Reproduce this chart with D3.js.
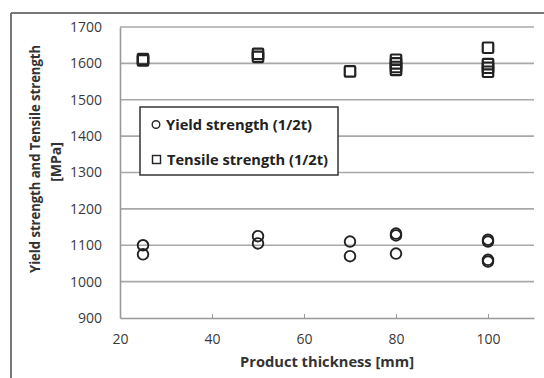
<!DOCTYPE html>
<html>
<head>
<meta charset="utf-8">
<script src="https://cdn.jsdelivr.net/npm/d3@7"></script>
<style>
  body { margin: 0; background: #fff; }
  svg text { font-family: "Open Sans", "Noto Sans", sans-serif; }
</style>
</head>
<body>
<div id="chart"></div>
<script>
// data
const yieldThickness = [25, 25, 50, 50, 70, 70, 80, 80, 80, 100, 100, 100, 100];
const yieldValues    = [1100, 1075, 1125, 1105, 1110, 1070, 1132, 1127, 1077, 1115, 1110, 1060, 1055];
const tensileThickness = [25, 25, 50, 50, 70, 80, 80, 80, 80, 100, 100, 100, 100];
const tensileValues    = [1612, 1608, 1626, 1618, 1578, 1610, 1600, 1590, 1582, 1643, 1598, 1588, 1577];
const xTicks = [20, 40, 60, 80, 100];
const yTicks = [900, 1000, 1100, 1200, 1300, 1400, 1500, 1600, 1700];

const width = 544, height = 378;

const svg = d3.select('#chart').append('svg')
  .attr('width', width)
  .attr('height', height);

// outer frame (only top and left edges are visible)
svg.append('line').attr('x1', 11).attr('y1', 13).attr('x2', width).attr('y2', 13)
  .attr('stroke', '#777').attr('stroke-width', 2);
svg.append('line').attr('x1', 11).attr('y1', 13).attr('x2', 11).attr('y2', height)
  .attr('stroke', '#777').attr('stroke-width', 2);

const x = d3.scaleLinear().domain([20, 110]).range([120, 534]);
const y = d3.scaleLinear().domain([900, 1700]).range([318, 27]);

// gridlines
svg.append('g')
  .selectAll('line')
  .data(yTicks.slice(1))
  .enter()
  .append('line')
  .attr('x1', x(20))
  .attr('x2', x(110))
  .attr('y1', d => y(d))
  .attr('y2', d => y(d))
  .attr('stroke', '#a8a8a8')
  .attr('stroke-width', 1.6);

// y axis
const yAxis = svg.append('g')
  .attr('transform', `translate(${x(20)},0)`)
  .call(d3.axisLeft(y).tickValues(yTicks).tickSize(0).tickPadding(18).tickFormat(d3.format('d')));
yAxis.select('.domain').attr('stroke', '#999').attr('stroke-width', 1.6);
yAxis.selectAll('text').attr('font-size', 14).attr('fill', '#3a3a3a')
  .style('font-family', '"Open Sans", sans-serif');

// x axis (ticks point inward)
const xAxis = svg.append('g')
  .attr('transform', `translate(0,${y(900)})`)
  .call(d3.axisBottom(x).tickValues(xTicks).tickSizeInner(-4).tickSizeOuter(0).tickPadding(16));
xAxis.select('.domain').attr('stroke', '#999').attr('stroke-width', 1.6);
xAxis.selectAll('.tick line').attr('stroke', '#999');
xAxis.selectAll('text').attr('font-size', 14).attr('fill', '#3a3a3a')
  .style('font-family', '"Open Sans", sans-serif');

// axis titles
svg.append('text')
  .attr('x', 327)
  .attr('y', 367)
  .attr('text-anchor', 'middle')
  .attr('font-size', 15)
  .attr('font-weight', 'bold')
  .attr('fill', '#333')
  .attr('textLength', 174)
  .attr('lengthAdjust', 'spacingAndGlyphs')
  .text('Product thickness [mm]');

svg.append('text')
  .attr('transform', 'translate(40,159) rotate(-90)')
  .attr('text-anchor', 'middle')
  .attr('font-size', 14)
  .attr('font-weight', 'bold')
  .attr('fill', '#333')
  .attr('textLength', 228)
  .attr('lengthAdjust', 'spacingAndGlyphs')
  .text('Yield strength and Tensile strength');
svg.append('text')
  .attr('transform', 'translate(61,162) rotate(-90)')
  .attr('text-anchor', 'middle')
  .attr('font-size', 14)
  .attr('font-weight', 'bold')
  .attr('fill', '#333')
  .text('[MPa]');

// tensile strength squares
const sq = 10.5;
svg.append('g')
  .selectAll('rect')
  .data(tensileValues)
  .enter()
  .append('rect')
  .attr('x', (d, i) => x(tensileThickness[i]) - sq / 2)
  .attr('y', d => y(d) - sq / 2)
  .attr('width', sq)
  .attr('height', sq)
  .attr('rx', 1)
  .attr('fill', 'none')
  .attr('stroke', '#222')
  .attr('stroke-width', 2.2);

// yield strength circles
svg.append('g')
  .selectAll('circle')
  .data(yieldValues)
  .enter()
  .append('circle')
  .attr('cx', (d, i) => x(yieldThickness[i]))
  .attr('cy', d => y(d))
  .attr('r', 5.3)
  .attr('fill', 'none')
  .attr('stroke', '#222')
  .attr('stroke-width', 1.9);

// legend
const legend = svg.append('g');
legend.append('rect')
  .attr('x', 140).attr('y', 107).attr('width', 198).attr('height', 68)
  .attr('fill', '#fff').attr('stroke', '#333').attr('stroke-width', 1.5);
legend.append('circle')
  .attr('cx', 156).attr('cy', 124.5).attr('r', 3.8)
  .attr('fill', 'none').attr('stroke', '#222').attr('stroke-width', 1.4);
legend.append('rect')
  .attr('x', 152.5).attr('y', 155.5).attr('width', 8).attr('height', 8)
  .attr('fill', 'none').attr('stroke', '#222').attr('stroke-width', 1.4);
legend.append('text')
  .attr('x', 166).attr('y', 130)
  .attr('font-size', 15).attr('font-weight', 'bold').attr('fill', '#222')
  .attr('textLength', 146).attr('lengthAdjust', 'spacingAndGlyphs')
  .text('Yield strength (1/2t)');
legend.append('text')
  .attr('x', 167).attr('y', 165)
  .attr('font-size', 15).attr('font-weight', 'bold').attr('fill', '#222')
  .attr('textLength', 161).attr('lengthAdjust', 'spacingAndGlyphs')
  .text('Tensile strength (1/2t)');
</script>
</body>
</html>
